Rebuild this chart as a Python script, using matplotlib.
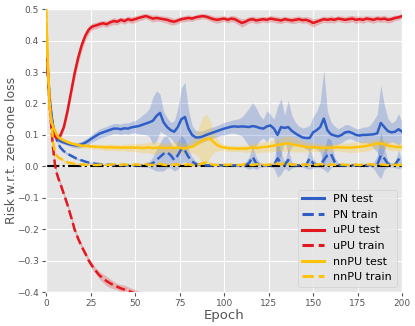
import numpy as np
import matplotlib
matplotlib.use("Agg")
import matplotlib.pyplot as plt

# ── Data ──────────────────────────────────────────────────────────────────────
epochs = list(range(0, 8)) + list(range(8, 201, 2))

pn_test = [
    0.400, 0.300, 0.220, 0.165, 0.125, 0.105, 0.093, 0.085,
    0.080, 0.076, 0.072, 0.069, 0.067, 0.067, 0.070, 0.075, 0.082, 0.090,
    0.097, 0.104, 0.108, 0.112, 0.116, 0.120, 0.120, 0.118, 0.121, 0.120,
    0.124, 0.126, 0.128, 0.132, 0.136, 0.140, 0.145, 0.160, 0.170, 0.140,
    0.125, 0.115, 0.110, 0.125, 0.150, 0.157, 0.120, 0.100, 0.092, 0.092,
    0.095, 0.100, 0.104, 0.108, 0.112, 0.116, 0.120, 0.123, 0.126, 0.127,
    0.126, 0.127, 0.126, 0.125, 0.128, 0.126, 0.122, 0.120, 0.127, 0.130,
    0.120, 0.100, 0.125, 0.122, 0.125, 0.113, 0.105, 0.098, 0.092, 0.090,
    0.090, 0.108, 0.115, 0.125, 0.152, 0.115, 0.102, 0.098, 0.095, 0.100,
    0.108, 0.110, 0.106, 0.100, 0.098, 0.100, 0.100, 0.101, 0.102, 0.105,
    0.138, 0.125, 0.112, 0.108, 0.110, 0.118, 0.110,
]
pn_test_sd = [
    0.005, 0.008, 0.008, 0.008, 0.007, 0.007, 0.006, 0.006,
    0.006, 0.006, 0.006, 0.007, 0.008, 0.009, 0.010, 0.011, 0.012, 0.013,
    0.014, 0.015, 0.015, 0.015, 0.016, 0.016, 0.016, 0.017, 0.017, 0.018,
    0.018, 0.020, 0.025, 0.030, 0.035, 0.045, 0.075, 0.080, 0.060, 0.035,
    0.030, 0.025, 0.035, 0.060, 0.100, 0.110, 0.060, 0.030, 0.022, 0.020,
    0.018, 0.018, 0.018, 0.018, 0.018, 0.018, 0.020, 0.020, 0.020, 0.022,
    0.025, 0.030, 0.045, 0.060, 0.075, 0.060, 0.040, 0.030, 0.050, 0.035,
    0.030, 0.090, 0.090, 0.040, 0.085, 0.050, 0.035, 0.030, 0.030, 0.035,
    0.040, 0.050, 0.060, 0.080, 0.155, 0.060, 0.040, 0.030, 0.025, 0.025,
    0.025, 0.022, 0.020, 0.020, 0.022, 0.025, 0.025, 0.030, 0.045, 0.060,
    0.120, 0.070, 0.040, 0.030, 0.035, 0.050, 0.030,
]

pn_train = [
    0.400, 0.300, 0.210, 0.160, 0.125, 0.105, 0.085, 0.070,
    0.060, 0.048, 0.040, 0.034, 0.028, 0.022, 0.019, 0.015, 0.012, 0.010,
    0.008, 0.007, 0.006, 0.005, 0.005, 0.004, 0.004, 0.004, 0.004, 0.003,
    0.003, 0.003, 0.004, 0.003, 0.005, 0.006, 0.010, 0.020, 0.030, 0.040,
    0.045, 0.035, 0.020, 0.035, 0.055, 0.050, 0.030, 0.015, 0.008, 0.005,
    0.004, 0.003, 0.003, 0.003, 0.004, 0.003, 0.003, 0.004, 0.003, 0.003,
    0.003, 0.003, 0.004, 0.010, 0.030, 0.010, 0.004, 0.003, 0.003, 0.003,
    0.004, 0.025, 0.010, 0.005, 0.020, 0.004, 0.003, 0.003, 0.004, 0.003,
    0.025, 0.010, 0.004, 0.004, 0.020, 0.035, 0.040, 0.015, 0.005, 0.003,
    0.003, 0.003, 0.003, 0.004, 0.003, 0.003, 0.003, 0.004, 0.003, 0.004,
    0.035, 0.025, 0.008, 0.004, 0.005, 0.022, 0.008,
]
pn_train_sd = [
    0.005, 0.008, 0.008, 0.008, 0.007, 0.006, 0.006, 0.005,
    0.005, 0.005, 0.004, 0.004, 0.004, 0.003, 0.003, 0.003, 0.003, 0.003,
    0.003, 0.003, 0.003, 0.003, 0.003, 0.003, 0.003, 0.003, 0.003, 0.003,
    0.003, 0.003, 0.004, 0.005, 0.008, 0.010, 0.020, 0.035, 0.045, 0.055,
    0.050, 0.040, 0.035, 0.045, 0.045, 0.035, 0.025, 0.015, 0.008, 0.005,
    0.004, 0.004, 0.004, 0.004, 0.004, 0.004, 0.004, 0.004, 0.004, 0.004,
    0.004, 0.004, 0.008, 0.020, 0.035, 0.020, 0.008, 0.005, 0.004, 0.004,
    0.010, 0.060, 0.035, 0.010, 0.035, 0.010, 0.005, 0.004, 0.006, 0.010,
    0.035, 0.015, 0.008, 0.008, 0.030, 0.055, 0.045, 0.015, 0.006, 0.004,
    0.004, 0.004, 0.004, 0.004, 0.004, 0.004, 0.004, 0.005, 0.010, 0.030,
    0.075, 0.035, 0.010, 0.006, 0.010, 0.030, 0.010,
]

upu_test = [
    0.400, 0.300, 0.200, 0.140, 0.110, 0.095, 0.090, 0.092,
    0.098, 0.125, 0.175, 0.235, 0.295, 0.345, 0.385, 0.415, 0.435, 0.445,
    0.448, 0.452, 0.455, 0.452, 0.458, 0.462, 0.460, 0.466, 0.462, 0.468,
    0.465, 0.468, 0.472, 0.475, 0.478, 0.474, 0.470, 0.472, 0.470, 0.468,
    0.466, 0.462, 0.460, 0.464, 0.468, 0.470, 0.472, 0.470, 0.474, 0.476,
    0.478, 0.476, 0.472, 0.468, 0.466, 0.468, 0.470, 0.466, 0.470, 0.468,
    0.462, 0.456, 0.460, 0.466, 0.468, 0.464, 0.466, 0.468, 0.466, 0.470,
    0.468, 0.466, 0.464, 0.468, 0.466, 0.464, 0.466, 0.468, 0.465, 0.466,
    0.462, 0.456, 0.460, 0.464, 0.468, 0.466, 0.468, 0.466, 0.470, 0.468,
    0.466, 0.468, 0.470, 0.466, 0.468, 0.466, 0.470, 0.468, 0.466, 0.470,
    0.468, 0.470, 0.466, 0.468, 0.472, 0.474, 0.478,
]
upu_test_sd = [
    0.008, 0.010, 0.010, 0.010, 0.010, 0.010, 0.010, 0.010,
    0.010, 0.012, 0.015, 0.018, 0.020, 0.020, 0.018, 0.015, 0.012, 0.010,
    0.010, 0.010, 0.009, 0.010, 0.010, 0.011, 0.010, 0.009, 0.010, 0.010,
    0.010, 0.011, 0.009, 0.010, 0.008, 0.010, 0.011, 0.010, 0.009, 0.010,
    0.011, 0.012, 0.010, 0.010, 0.009, 0.010, 0.010, 0.009, 0.008, 0.009,
    0.008, 0.009, 0.010, 0.010, 0.011, 0.010, 0.009, 0.010, 0.010, 0.011,
    0.012, 0.013, 0.011, 0.010, 0.010, 0.011, 0.010, 0.009, 0.010, 0.010,
    0.010, 0.011, 0.010, 0.010, 0.009, 0.010, 0.011, 0.010, 0.010, 0.010,
    0.012, 0.013, 0.011, 0.010, 0.010, 0.010, 0.011, 0.010, 0.009, 0.010,
    0.010, 0.011, 0.010, 0.012, 0.010, 0.011, 0.010, 0.010, 0.011, 0.010,
    0.010, 0.011, 0.010, 0.010, 0.009, 0.008, 0.008,
]

# uPU train leaves the plotted range after ~50 epochs
upu_train = [
    0.400, 0.300, 0.200, 0.120, 0.055, 0.005, -0.022, -0.040,
    -0.055, -0.088, -0.122, -0.160, -0.200, -0.230, -0.255, -0.277, -0.300, -0.318,
    -0.333, -0.347, -0.356, -0.365, -0.372, -0.378, -0.383, -0.388, -0.392, -0.396,
    -0.400, -0.404, -0.408, -0.412, -0.416, -0.420, -0.424, -0.428, -0.432, -0.436,
]
upu_train_sd = [
    0.008, 0.010, 0.010, 0.010, 0.010, 0.008, 0.008, 0.008,
    0.008, 0.008, 0.008, 0.008, 0.008, 0.008, 0.008, 0.008, 0.009, 0.010,
    0.010, 0.012, 0.014, 0.015, 0.014, 0.012, 0.010, 0.012, 0.014, 0.013,
    0.012, 0.012, 0.012, 0.012, 0.012, 0.012, 0.012, 0.012, 0.012, 0.012,
]

nnpu_test = [
    0.500, 0.330, 0.190, 0.145, 0.125, 0.113, 0.100, 0.092,
    0.088, 0.082, 0.077, 0.073, 0.070, 0.068, 0.066, 0.065, 0.064, 0.063,
    0.062, 0.062, 0.061, 0.060, 0.061, 0.060, 0.060, 0.059, 0.060, 0.059,
    0.060, 0.059, 0.060, 0.058, 0.059, 0.060, 0.058, 0.059, 0.060, 0.058,
    0.058, 0.059, 0.058, 0.060, 0.058, 0.057, 0.060, 0.062, 0.068, 0.076,
    0.082, 0.086, 0.088, 0.078, 0.068, 0.062, 0.060, 0.058, 0.057, 0.057,
    0.056, 0.057, 0.056, 0.058, 0.060, 0.058, 0.060, 0.061, 0.062, 0.064,
    0.066, 0.068, 0.070, 0.072, 0.073, 0.070, 0.068, 0.066, 0.064, 0.062,
    0.060, 0.061, 0.060, 0.059, 0.058, 0.060, 0.059, 0.060, 0.061, 0.060,
    0.060, 0.059, 0.060, 0.061, 0.062, 0.063, 0.065, 0.067, 0.070, 0.072,
    0.073, 0.070, 0.066, 0.064, 0.062, 0.061, 0.062,
]
nnpu_test_sd = [
    0.005, 0.020, 0.020, 0.018, 0.015, 0.012, 0.010, 0.010,
    0.008, 0.008, 0.008, 0.007, 0.007, 0.007, 0.007, 0.007, 0.007, 0.008,
    0.008, 0.008, 0.009, 0.010, 0.010, 0.010, 0.010, 0.010, 0.011, 0.012,
    0.012, 0.013, 0.014, 0.015, 0.016, 0.018, 0.020, 0.018, 0.016, 0.015,
    0.015, 0.016, 0.018, 0.020, 0.018, 0.015, 0.015, 0.018, 0.030, 0.050,
    0.075, 0.080, 0.060, 0.035, 0.020, 0.012, 0.010, 0.010, 0.010, 0.010,
    0.010, 0.010, 0.012, 0.013, 0.014, 0.015, 0.016, 0.016, 0.017, 0.018,
    0.018, 0.020, 0.022, 0.024, 0.025, 0.024, 0.022, 0.020, 0.018, 0.016,
    0.015, 0.014, 0.013, 0.012, 0.012, 0.012, 0.012, 0.012, 0.012, 0.013,
    0.014, 0.015, 0.016, 0.016, 0.016, 0.016, 0.016, 0.016, 0.015, 0.015,
    0.015, 0.014, 0.014, 0.013, 0.013, 0.012, 0.012,
]

nnpu_train = [
    0.500, 0.310, 0.200, 0.140, 0.075, 0.045, 0.033, 0.028,
    0.025, 0.018, 0.013, 0.010, 0.008, 0.007, 0.006, 0.005, 0.005, 0.005,
    0.004, 0.005, 0.006, 0.004, 0.005, 0.007, 0.005, 0.004, 0.006, 0.005,
    0.004, 0.006, 0.005, 0.004, 0.007, 0.005, 0.004, 0.006, 0.008, 0.005,
    0.004, 0.006, 0.005, 0.007, 0.004, 0.005, 0.006, 0.004, 0.005, 0.006,
    0.010, 0.012, 0.008, 0.005, 0.004, 0.006, 0.005, 0.004, 0.006, 0.005,
    0.004, 0.005, 0.007, 0.005, 0.004, 0.006, 0.008, 0.005, 0.004, 0.006,
    0.010, 0.008, 0.006, 0.012, 0.008, 0.005, 0.006, 0.004, 0.005, 0.006,
    0.004, 0.006, 0.005, 0.007, 0.005, 0.004, 0.006, 0.005, 0.004, 0.006,
    0.005, 0.004, 0.006, 0.005, 0.004, 0.006, 0.005, 0.007, 0.005, 0.004,
    0.006, 0.005, 0.004, 0.006, 0.005, 0.004, 0.005,
]
nnpu_train_sd = [
    0.005, 0.015, 0.015, 0.012, 0.010, 0.008, 0.006, 0.006,
    0.005, 0.005, 0.004, 0.004, 0.004, 0.004, 0.004, 0.004, 0.004, 0.004,
    0.004, 0.005, 0.004, 0.004, 0.005, 0.004, 0.004, 0.005, 0.004, 0.004,
    0.004, 0.005, 0.004, 0.004, 0.005, 0.004, 0.004, 0.005, 0.006, 0.004,
    0.004, 0.005, 0.004, 0.005, 0.004, 0.004, 0.005, 0.004, 0.005, 0.006,
    0.008, 0.008, 0.006, 0.005, 0.004, 0.004, 0.005, 0.004, 0.004, 0.005,
    0.004, 0.004, 0.005, 0.004, 0.004, 0.005, 0.006, 0.004, 0.004, 0.005,
    0.006, 0.006, 0.005, 0.007, 0.006, 0.004, 0.005, 0.004, 0.004, 0.005,
    0.004, 0.005, 0.004, 0.005, 0.004, 0.004, 0.005, 0.004, 0.004, 0.005,
    0.004, 0.004, 0.005, 0.004, 0.004, 0.005, 0.004, 0.005, 0.004, 0.004,
    0.005, 0.004, 0.004, 0.005, 0.004, 0.004, 0.004,
]

# ── Colours ───────────────────────────────────────────────────────────────────
COLOUR_PN   = "#2F5FC6"
COLOUR_UPU  = "#E3171E"
COLOUR_NNPU = "#FFC20A"

plt.style.use("ggplot")

fig = plt.figure(figsize=(4.15, 3.26), dpi=100)
ax = fig.add_axes([0.111, 0.104, 0.858, 0.868])

ax.axhline(0, color="black", linestyle="-.", linewidth=1.5, zorder=2)


def draw(x, mean, sd, colour, style, label):
    m = np.asarray(mean)
    s = np.asarray(sd)
    ax.fill_between(x, m - s, m + s, color=colour, alpha=0.25, linewidth=0, zorder=1)
    ax.plot(x, m, color=colour, linestyle=style, linewidth=1.8, label=label, zorder=3)


draw(epochs, pn_test, pn_test_sd, COLOUR_PN, "-", "PN test")
draw(epochs, pn_train, pn_train_sd, COLOUR_PN, "--", "PN train")
draw(epochs, upu_test, upu_test_sd, COLOUR_UPU, "-", "uPU test")
draw(epochs[:len(upu_train)], upu_train, upu_train_sd, COLOUR_UPU, "--", "uPU train")
draw(epochs, nnpu_test, nnpu_test_sd, COLOUR_NNPU, "-", "nnPU test")
draw(epochs, nnpu_train, nnpu_train_sd, COLOUR_NNPU, "--", "nnPU train")

ax.set_xlim(0, 200)
ax.set_ylim(-0.4, 0.5)
ax.set_xticks([0, 25, 50, 75, 100, 125, 150, 175, 200])
ax.set_yticks([-0.4, -0.3, -0.2, -0.1, 0.0, 0.1, 0.2, 0.3, 0.4, 0.5])
ax.tick_params(labelsize=6.5, pad=2, length=3)
ax.set_xlabel("Epoch", fontsize=9.5)
ax.set_ylabel("Risk w.r.t. zero-one loss", fontsize=9)
ax.xaxis.set_label_coords(0.5, -0.058)
ax.yaxis.set_label_coords(-0.08, 0.5)

leg = ax.legend(loc="lower right", fontsize=8, handlelength=2.0)
for h in leg.get_lines():
    h.set_linewidth(2.2)

fig.savefig("out.png", dpi=100)
